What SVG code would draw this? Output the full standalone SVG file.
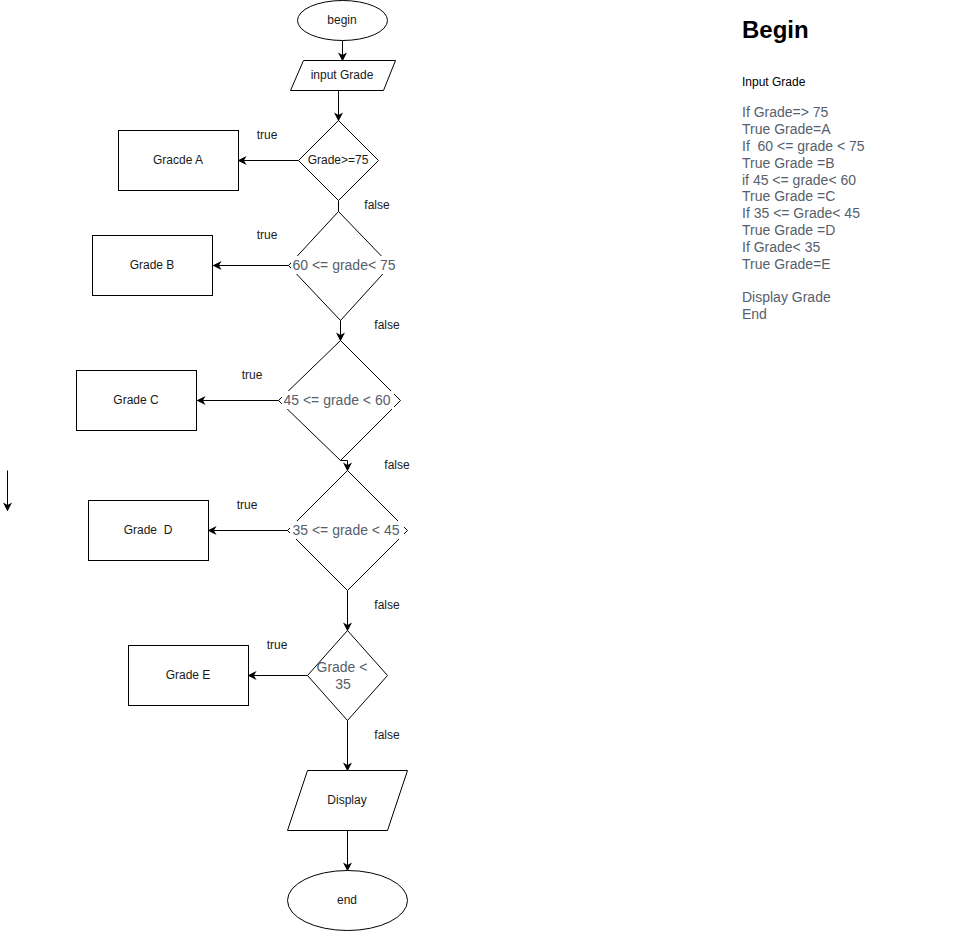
<svg xmlns="http://www.w3.org/2000/svg" width="978" height="931" viewBox="0 0 978 931">
  <style>
    .shape { fill: #ffffff; stroke: #000000; stroke-width: 1; }
    .edge { fill: none; stroke: #000000; stroke-width: 1; }
    .lbl { font-family: "Liberation Sans", Arial, sans-serif; font-size: 12px; fill: #1a1a1a; text-anchor: middle; dominant-baseline: central; }
    .cond { font-family: "Liberation Sans", Arial, sans-serif; font-size: 14px; fill: #56606b; text-anchor: middle; dominant-baseline: central; }
    .tag { font-family: "Liberation Sans", Arial, sans-serif; font-size: 12px; fill: #1a1a1a; text-anchor: middle; dominant-baseline: central; }
    .note { font-family: "Liberation Sans", Arial, sans-serif; font-size: 14px; fill: #56606b; }
  </style>
  <defs>
    <marker id="arrow" viewBox="0 0 10 10" refX="9" refY="5" markerWidth="9" markerHeight="9" markerUnits="userSpaceOnUse" orient="auto">
      <path d="M0,0 L10,5 L0,10 L3,5 Z" fill="#000000"/>
    </marker>
  </defs>
  <rect width="978" height="931" fill="#ffffff"/>

  <g transform="translate(0.5,0.5)">
  <!-- connectors -->
  <g id="connectors">
    <line class="edge" x1="342" y1="40" x2="342" y2="60" marker-end="url(#arrow)"/>
    <line class="edge" x1="338" y1="90" x2="338" y2="120" marker-end="url(#arrow)"/>
    <line class="edge" x1="298" y1="160" x2="238" y2="160" marker-end="url(#arrow)"/>
    <line class="edge" x1="338" y1="200" x2="338" y2="211"/>
    <line class="edge" x1="290" y1="265" x2="213" y2="265" marker-end="url(#arrow)"/>
    <line class="edge" x1="340" y1="320" x2="340" y2="340" marker-end="url(#arrow)"/>
    <line class="edge" x1="280" y1="400" x2="197" y2="400" marker-end="url(#arrow)"/>
    <path class="edge" d="M340,460 L347,460 L347,470" marker-end="url(#arrow)"/>
    <line class="edge" x1="289" y1="530" x2="208" y2="530" marker-end="url(#arrow)"/>
    <line class="edge" x1="347" y1="590" x2="347" y2="630" marker-end="url(#arrow)"/>
    <line class="edge" x1="307" y1="675" x2="248" y2="675" marker-end="url(#arrow)"/>
    <line class="edge" x1="347" y1="720" x2="347" y2="770" marker-end="url(#arrow)"/>
    <line class="edge" x1="347" y1="830" x2="347" y2="870" marker-end="url(#arrow)"/>
    <line class="edge" x1="7" y1="470" x2="7" y2="510" marker-end="url(#arrow)"/>
  </g>

  <g id="begin">
    <ellipse class="shape" cx="342" cy="20" rx="45" ry="20"/>
  </g>
  <g id="input">
    <polygon class="shape" points="303,60 395,60 383,90 290,90"/>
  </g>
  <g id="check-a">
    <polygon class="shape" points="338,120 378,160 338,200 298,160"/>
  </g>
  <g id="grade-a">
    <rect class="shape" x="118" y="130" width="120" height="60"/>
  </g>
  <g id="check-b">
    <polygon class="shape" points="338,211 390,265 340,320 288,265"/>
  </g>
  <g id="grade-b">
    <rect class="shape" x="92" y="235" width="120" height="60"/>
  </g>
  <g id="check-c">
    <polygon class="shape" points="340,340 400,400 340,460 278,400"/>
  </g>
  <g id="grade-c">
    <rect class="shape" x="76" y="370" width="120" height="60"/>
  </g>
  <g id="check-d">
    <polygon class="shape" points="347,470 407,530 347,590 287,530"/>
  </g>
  <g id="grade-d">
    <rect class="shape" x="88" y="500" width="120" height="60"/>
  </g>
  <g id="check-e">
    <polygon class="shape" points="347,630 387,675 347,720 307,675"/>
  </g>
  <g id="grade-e">
    <rect class="shape" x="128" y="645" width="120" height="60"/>
  </g>
  <g id="display">
    <polygon class="shape" points="307,770 407,770 387,830 287,830"/>
  </g>
  <g id="end">
    <ellipse class="shape" cx="347" cy="900" rx="60" ry="30"/>
  </g>
  </g>

  <!-- labels -->
  <g id="edge-labels">
    <text class="tag" x="267" y="135">true</text>
    <text class="tag" x="377" y="205">false</text>
    <text class="tag" x="267" y="235">true</text>
    <text class="tag" x="387" y="325">false</text>
    <text class="tag" x="252" y="375">true</text>
    <text class="tag" x="397" y="465">false</text>
    <text class="tag" x="247" y="505">true</text>
    <text class="tag" x="387" y="605">false</text>
    <text class="tag" x="277" y="645">true</text>
    <text class="tag" x="387" y="735">false</text>
  </g>
  <g id="node-labels">
    <text class="lbl" x="342" y="20">begin</text>
    <text class="lbl" x="342" y="75">input Grade</text>
    <text class="lbl" x="338" y="160">Grade&gt;=75</text>
    <text class="lbl" x="178" y="160">Gracde A</text>
    <rect x="291" y="256" width="106" height="18" fill="#ffffff"/>
    <text class="cond" x="344" y="265">60 &lt;= grade&lt; 75</text>
    <text class="lbl" x="152" y="265">Grade B</text>
    <rect x="282" y="391" width="112" height="18" fill="#ffffff"/>
    <text class="cond" x="337" y="400">45 &lt;= grade &lt; 60</text>
    <text class="lbl" x="136" y="400">Grade C</text>
    <rect x="290" y="521" width="114" height="18" fill="#ffffff"/>
    <text class="cond" x="346" y="530">35 &lt;= grade &lt; 45</text>
    <text class="lbl" x="148" y="530" xml:space="preserve">Grade  D</text>
    <text class="cond" x="342" y="667">Grade &lt;</text>
    <text class="cond" x="343" y="684">35</text>
    <text class="lbl" x="188" y="675">Grade E</text>
    <text class="lbl" x="347" y="800">Display</text>
    <text class="lbl" x="347" y="900">end</text>
  </g>

  <!-- pseudocode -->
  <g id="pseudocode">
    <text x="742" y="38" font-family="Liberation Sans, Arial, sans-serif" font-size="24" font-weight="bold" fill="#000000">Begin</text>
    <text x="742" y="86" font-family="Liberation Sans, Arial, sans-serif" font-size="12" fill="#000000">Input Grade</text>
    <text class="note" x="742" y="117">If Grade=&gt; 75</text>
    <text class="note" x="742" y="134">True Grade=A</text>
    <text class="note" x="742" y="151" xml:space="preserve">If  60 &lt;= grade &lt; 75</text>
    <text class="note" x="742" y="168">True Grade =B</text>
    <text class="note" x="742" y="185">if 45 &lt;= grade&lt; 60</text>
    <text class="note" x="742" y="201">True Grade =C</text>
    <text class="note" x="742" y="218">If 35 &lt;= Grade&lt; 45</text>
    <text class="note" x="742" y="235">True Grade =D</text>
    <text class="note" x="742" y="252">If Grade&lt; 35</text>
    <text class="note" x="742" y="269">True Grade=E</text>
    <text class="note" x="742" y="302">Display Grade</text>
    <text class="note" x="742" y="319">End</text>
  </g>
</svg>
